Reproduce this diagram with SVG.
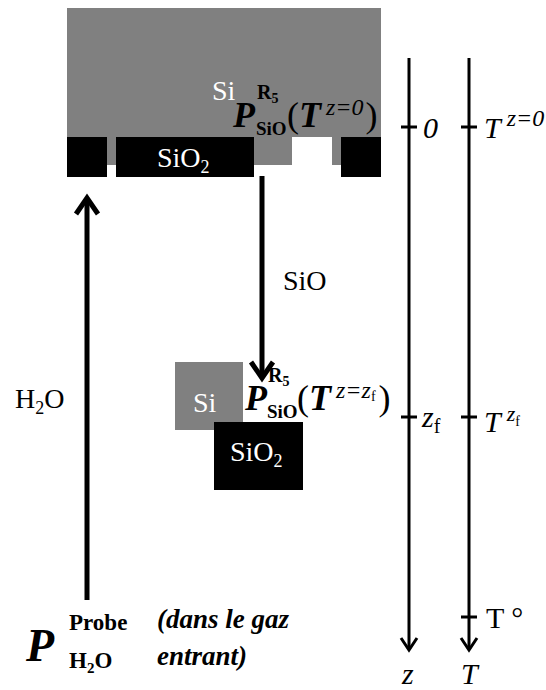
<svg xmlns="http://www.w3.org/2000/svg" width="546" height="690" viewBox="0 0 546 690">
<style>
text{font-family:"Liberation Serif","Times New Roman",serif;}
.w{fill:#fff}
.k{fill:#000}
.it{font-style:italic}
.up{font-style:normal}
.b{font-weight:bold}
.ax{stroke:#000;stroke-width:3;fill:none}
.th{stroke:#000;stroke-width:5;fill:none}
</style>
<g id="si-top">
<rect x="67" y="8" width="314" height="157" fill="#808080"/>
<rect x="292" y="137" width="40" height="29" fill="#fff"/>
<rect x="67" y="137" width="40" height="40" fill="#000"/>
<rect x="116" y="137" width="138" height="40" fill="#000"/>
<rect x="341" y="137" width="40" height="40" fill="#000"/>
<text x="212" y="100" font-size="28" class="w">Si</text>
<text x="157" y="167" font-size="28" class="w">SiO<tspan font-size="18" dy="6">2</tspan></text>
<text x="233" y="127" class="k"><tspan class="b it" font-size="36">P</tspan><tspan class="b" font-size="20" x="257" y="99">R</tspan><tspan class="b" font-size="14" dy="4">5</tspan><tspan class="b" font-size="19" x="256" y="135">SiO</tspan><tspan font-size="36" x="287" y="127">(</tspan><tspan class="b it" font-size="36">T</tspan><tspan class="it" font-size="24" dx="5" dy="-12">z=0</tspan><tspan font-size="36" dx="2" dy="12">)</tspan></text>
</g>
<g id="si-bottom">
<rect x="175" y="362" width="68" height="68" fill="#808080"/>
<rect x="214" y="422" width="89" height="68" fill="#000"/>
<text x="193" y="412" font-size="28" class="w">Si</text>
<text x="230" y="461" font-size="28" class="w">SiO<tspan font-size="18" dy="6">2</tspan></text>
<text x="245" y="410" class="k"><tspan class="b it" font-size="36">P</tspan><tspan class="b" font-size="20" x="268" y="382">R</tspan><tspan class="b" font-size="14" dy="4">5</tspan><tspan class="b" font-size="19" x="267" y="418">SiO</tspan><tspan font-size="36" x="297" y="410">(</tspan><tspan class="b it" font-size="36">T</tspan><tspan class="it" font-size="24" dx="5" dy="-12">z=z</tspan><tspan font-size="14" dy="3">f</tspan><tspan font-size="36" dx="3" dy="9">)</tspan></text>
</g>
<g id="probe">
<text x="26" y="661" class="b it" font-size="46">P</text>
<text x="69" y="630" class="b" font-size="23">Probe</text>
<text x="69" y="668" class="b" font-size="23">H<tspan font-size="15" dy="5">2</tspan><tspan dy="-5">O</tspan></text>
<text x="157" y="628" class="b it" font-size="27">(dans le gaz</text>
<text x="157" y="665" class="b it" font-size="27">entrant)</text>
</g>
<g id="labels">
<text x="15" y="408" font-size="28">H<tspan font-size="18" dy="6">2</tspan><tspan dy="-6">O</tspan></text>
<text x="283" y="290" font-size="28">SiO</text>
</g>
<g id="axis-z">
<text x="423" y="138" class="it" font-size="30">0</text>
<text x="422" y="427" class="it" font-size="30">z<tspan class="up" font-size="20" dy="6">f</tspan></text>
<text x="402" y="684" class="it" font-size="30">z</text>
</g>
<g id="axis-T">
<text x="484" y="138" class="it" font-size="30">T<tspan font-size="24" dx="6" dy="-12">z=0</tspan></text>
<text x="484" y="432" class="it" font-size="30">T<tspan font-size="22" dx="6" dy="-11">z</tspan><tspan class="up" font-size="14" dy="5">f</tspan></text>
<text x="486" y="628" font-size="30">T °</text>
<text x="461" y="684" class="it" font-size="30">T</text>
</g>
<g id="connectors">
<line x1="409" y1="58" x2="409" y2="649" class="ax"/>
<path d="M401,638 L409,650 L417,638" class="ax"/>
<line x1="469" y1="58" x2="469" y2="649" class="ax"/>
<path d="M461,638 L469,650 L477,638" class="ax"/>
<path d="M401,127 H417 M401,417 H417 M461,127 H477 M461,417 H477 M461,617 H477" class="ax"/>
<line x1="87" y1="600" x2="87" y2="198" class="th"/>
<path d="M76,214 L87,198 L98,214" class="th"/>
<line x1="262" y1="176" x2="262" y2="378" class="th"/>
<path d="M251,362 L262,378 L273,362" class="th"/>
</g>
</svg>
